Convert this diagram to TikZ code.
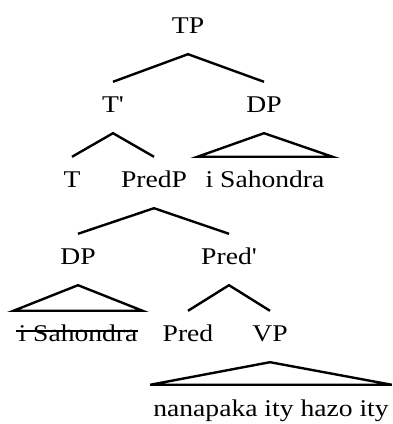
\documentclass[tikz,border=0pt]{standalone}
\usepackage{fontspec}
\setmainfont{Liberation Serif}[FakeStretch=1.15, Ligatures=TeXOff]
\begin{document}
\begin{tikzpicture}[x=1pt,y=1pt,
  lbl/.style={anchor=base, font=\fontsize{24}{28}\selectfont, text height=19pt, text depth=8pt, inner ysep=12pt, inner xsep=0pt},
  edge/.style={line width=2.4pt},
  strike/.style={line width=1.5pt}]
\useasboundingbox (0,0) rectangle (393,424);
\node[lbl] (TP) at (188,390) {TP};
\node[lbl] (Tbar) at (113,311) {T'};
\node[lbl] (DPa) at (264,311) {DP};
\node[lbl] (T) at (72,236) {T};
\node[lbl] (PredP) at (154,236) {PredP};
\node[lbl, inner xsep=8pt] (SahA) at (265,236) {i Sahondra};
\node[lbl] (DPb) at (78,159) {DP};
\node[lbl] (Predbar) at (229,159) {Pred'};
\node[lbl, inner xsep=5pt] (SahB) at (78,82) {i Sahondra};
\node[lbl] (Pred) at (188,82) {Pred};
\node[lbl] (VP) at (270,82) {VP};
\node[lbl, inner xsep=3pt] (Words) at (271,8) {nanapaka ity hazo ity};
\draw[edge] (Tbar.north) -- (TP.south) -- (DPa.north);
\draw[edge] (T.north) -- (Tbar.south) -- (PredP.north);
\draw[edge] (DPb.north) -- (PredP.south) -- (Predbar.north);
\draw[edge] (Pred.north) -- (Predbar.south) -- (VP.north);
\draw[edge] (DPa.south) -- (SahA.north east) -- (SahA.north west) -- cycle;
\draw[edge] (DPb.south) -- (SahB.north east) -- (SahB.north west) -- cycle;
\draw[edge] (VP.south) -- (Words.north east) -- (Words.north west) -- cycle;
\draw[strike] ([xshift=3pt,yshift=11pt]SahB.base west) -- ([xshift=-5pt,yshift=11pt]SahB.base east);
\end{tikzpicture}
\end{document}
